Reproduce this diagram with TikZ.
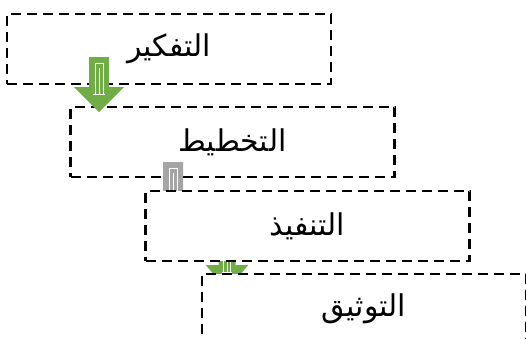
\documentclass[tikz,border=0pt]{standalone}
\usepackage{fontspec}
\TeXXeTstate=1
\newfontfamily\arabicfont[Script=Arabic]{DejaVu Sans}
\definecolor{stepgreen}{RGB}{112,173,71}
\definecolor{stepgray}{RGB}{165,165,165}

\begin{document}
\begin{tikzpicture}[
      x=1pt, y=-1pt,
      stepbox/.style={draw,fill=white,line width=2.1pt,
                      dash pattern=on 10pt off 6pt,
                      minimum width=324pt,minimum height=70pt,inner sep=0pt,
                      font=\arabicfont\fontsize{30}{36}\selectfont},
      blockarrow/.pic={
        \fill (-10,0) -- (10,0) -- (10,30) -- (25,30) -- (0,55)
              -- (-25,30) -- (-10,30) -- cycle;
        \draw[white,line width=0.8pt] (-4,38) -- (-4,6) -- (4,6) -- (4,38);
        \draw[white,line width=0.6pt] (0,11) -- (0,38) (-6,37) -- (6,37);
      },
    ]
    \useasboundingbox (0,0) rectangle (526,338);

    % ── Steps (upper ones first) ──────────────────────────────────────────
    \node[stepbox] (think) at (169,49)    {\beginR التفكير\endR};
    \node[stepbox] (plan)  at (232.5,142) {\beginR التخطيط\endR};

    % ── Arrows between the steps ──────────────────────────────────────────
    \pic[stepgreen] (thinkplan) at (99,57)  {blockarrow};
    \pic[stepgray]  (planexec)  at (173,162) {blockarrow};
    \pic[stepgreen,xscale=0.85] (execdoc) at (227,235) {blockarrow};

    % ── Lower steps, laid over the arrows ─────────────────────────────────
    \node[stepbox] (exec) at (307.5,226) {\beginR التنفيذ\endR};
    \node[stepbox] (doc)  at (364,309)   {\beginR التوثيق\endR};

  \end{tikzpicture}
\end{document}
